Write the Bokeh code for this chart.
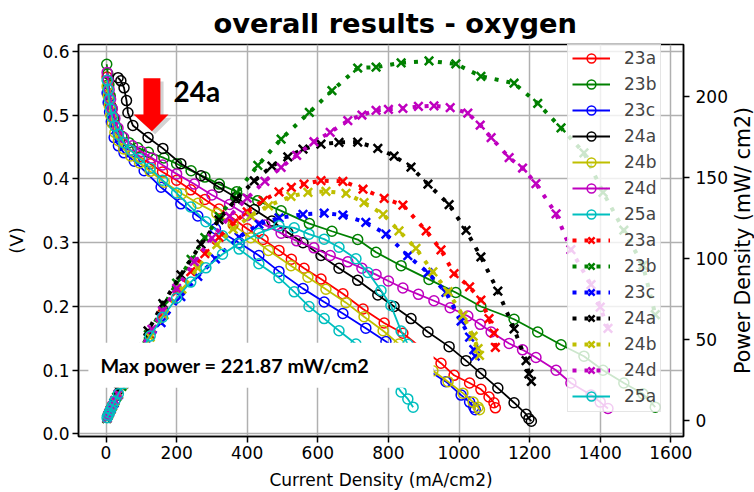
import math
from bokeh.plotting import figure
from bokeh.models import (Range1d, LinearAxis, FixedTicker, NumeralTickFormatter,
                          Legend, LegendItem, Label, BoxAnnotation, PolyAnnotation)
from bokeh.embed import file_html
from bokeh.resources import INLINE

# ---------------- data ----------------
SAMPLES = ["23a", "23b", "23c", "24a", "24b", "24d", "25a"]

I_23a = [3, 6, 9, 13, 18, 25, 35, 50, 70, 95, 125, 160, 200, 240, 280, 320, 360, 400, 445, 490,
         525, 561, 609, 671, 728, 788, 841, 907, 949, 986, 1030, 1062, 1085, 1099, 1103]
V_23a = [0.56, 0.545, 0.53, 0.515, 0.5, 0.485, 0.47, 0.457, 0.445, 0.435, 0.424, 0.411, 0.398, 0.383,
         0.368, 0.353, 0.338, 0.322, 0.305, 0.288, 0.274, 0.26, 0.243, 0.22, 0.196, 0.174, 0.158,
         0.129, 0.111, 0.092, 0.08, 0.07, 0.058, 0.049, 0.041]
P_23a = [1.7, 3.3, 4.8, 6.7, 9.0, 12.1, 16.5, 22.9, 31.2, 41.3, 53.0, 65.8, 79.6, 91.9, 103.0, 113.0,
         121.7, 128.8, 135.7, 141.1, 143.9, 145.9, 148.0, 147.6, 142.7, 137.1, 132.9, 117.0, 105.3,
         90.7, 82.4, 74.3, 62.9, 53.9, 45.2]

I_23b = [2, 5, 8, 12, 16, 22, 30, 45, 65, 90, 120, 164, 200, 241, 280, 321, 370, 430, 496, 576,
         640, 713, 765, 836, 915, 991, 1062, 1156, 1223, 1289, 1354, 1408, 1467, 1521, 1556]
V_23b = [0.58, 0.565, 0.548, 0.53, 0.512, 0.495, 0.48, 0.467, 0.457, 0.449, 0.442, 0.433, 0.424,
         0.413, 0.403, 0.392, 0.38, 0.366, 0.35, 0.33, 0.318, 0.305, 0.285, 0.264, 0.2425, 0.222,
         0.2, 0.18, 0.16, 0.14, 0.122, 0.1, 0.08, 0.063, 0.042]
P_23b = [1.2, 2.8, 4.4, 6.4, 8.2, 10.9, 14.4, 21.0, 29.7, 40.4, 53.0, 71.0, 84.8, 99.5, 112.8, 125.8,
         140.6, 157.4, 173.6, 190.1, 203.5, 217.5, 218.0, 220.7, 221.9, 220.0, 212.4, 208.1, 195.7,
         180.5, 165.2, 140.8, 117.4, 95.8, 65.4]

I_23c = [3, 6, 10, 15, 23, 35, 51, 80, 108, 156, 212, 260, 310, 377, 433, 490, 558, 618, 671, 736,
         793, 855, 912, 963, 1006, 1030, 1042, 1046]
V_23c = [0.535, 0.52, 0.505, 0.49, 0.465, 0.452, 0.441, 0.428, 0.413, 0.387, 0.361, 0.342, 0.322,
         0.3, 0.28, 0.255, 0.228, 0.207, 0.189, 0.166, 0.145, 0.119, 0.1, 0.082, 0.061, 0.05, 0.042,
         0.038]
P_23c = [1.6, 3.1, 5.1, 7.4, 10.7, 15.8, 22.5, 34.2, 44.6, 60.4, 76.5, 88.9, 99.8, 113.1, 121.2,
         125.0, 127.2, 127.9, 126.8, 122.2, 115.0, 101.7, 91.2, 79.0, 61.4, 51.5, 43.8, 39.7]

I_24a = [34, 42, 51, 58, 62, 76, 119, 161, 212, 269, 320, 368, 420, 470, 515, 558, 609, 660, 713,
         770, 816, 864, 912, 972, 1020, 1062, 1110, 1156, 1190, 1198, 1205]
V_24a = [0.559, 0.554, 0.543, 0.523, 0.504, 0.484, 0.465, 0.448, 0.424, 0.405, 0.387, 0.371, 0.352,
         0.334, 0.316, 0.30, 0.28, 0.26, 0.241, 0.218, 0.2, 0.181, 0.16, 0.137, 0.115, 0.095, 0.072,
         0.049, 0.031, 0.024, 0.02]
P_24a = [19.0, 23.3, 27.7, 30.3, 31.2, 36.8, 55.3, 72.1, 89.9, 108.9, 123.8, 136.5, 147.8, 157.0,
         162.7, 167.4, 170.5, 171.6, 171.8, 167.9, 163.2, 156.4, 145.9, 133.2, 117.3, 100.9, 79.9,
         56.6, 36.9, 28.8, 24.1]

I_24b = [3, 6, 9, 13, 18, 25, 35, 50, 70, 95, 125, 165, 215, 260, 314, 360, 410, 460, 524, 572,
         623, 680, 731, 785, 830, 878, 926, 969, 1011, 1040, 1054, 1058]
V_24b = [0.545, 0.53, 0.515, 0.5, 0.487, 0.473, 0.46, 0.447, 0.436, 0.425, 0.412, 0.395, 0.377,
         0.362, 0.346, 0.328, 0.308, 0.288, 0.264, 0.246, 0.227, 0.206, 0.184, 0.162, 0.141, 0.121,
         0.099, 0.082, 0.064, 0.05, 0.042, 0.038]
P_24b = [1.6, 3.2, 4.6, 6.5, 8.8, 11.8, 16.1, 22.4, 30.5, 40.4, 51.5, 65.2, 81.1, 94.1, 108.6, 118.1,
         126.3, 132.5, 138.3, 140.7, 141.4, 140.1, 134.5, 127.2, 117.0, 106.2, 91.7, 79.5, 64.7,
         52.0, 44.3, 40.2]

I_24d = [3, 6, 9, 13, 18, 25, 34, 50, 75, 100, 130, 160, 200, 250, 300, 350, 400, 450, 496, 540,
         589, 635, 685, 725, 765, 800, 841, 885, 929, 975, 1025, 1060, 1091, 1142, 1180, 1218, 1275,
         1317, 1374, 1400, 1422]
V_24d = [0.567, 0.555, 0.54, 0.525, 0.51, 0.495, 0.48, 0.465, 0.452, 0.443, 0.433, 0.422, 0.408,
         0.392, 0.375, 0.36, 0.343, 0.328, 0.315, 0.303, 0.292, 0.28, 0.27, 0.26, 0.25, 0.24, 0.229,
         0.219, 0.209, 0.198, 0.185, 0.172, 0.16, 0.142, 0.132, 0.12, 0.1, 0.08, 0.061, 0.05, 0.04]
P_24d = [1.7, 3.3, 4.9, 6.8, 9.2, 12.4, 16.3, 23.3, 33.9, 44.3, 56.3, 67.5, 81.6, 98.0, 112.5, 126.0,
         137.2, 147.6, 156.2, 163.6, 172.0, 177.8, 185.0, 188.5, 191.3, 192.0, 192.6, 193.8, 194.2,
         193.1, 189.6, 182.3, 174.6, 162.2, 155.8, 146.2, 127.5, 105.4, 83.8, 70.0, 56.9]

I_25a = [3, 6, 9, 13, 18, 25, 35, 50, 70, 95, 125, 160, 200, 240, 283, 330, 377, 433, 490, 533,
         575, 618, 660, 708, 742, 779, 807, 836, 855, 870]
V_25a = [0.555, 0.54, 0.525, 0.51, 0.497, 0.483, 0.47, 0.457, 0.445, 0.432, 0.417, 0.398, 0.378,
         0.356, 0.333, 0.311, 0.29, 0.267, 0.245, 0.223, 0.2, 0.181, 0.162, 0.141, 0.123, 0.103,
         0.088, 0.066, 0.055, 0.042]
P_25a = [1.7, 3.2, 4.7, 6.6, 9.0, 12.1, 16.5, 22.9, 31.2, 41.0, 52.1, 63.7, 75.6, 85.4, 94.2, 102.6,
         109.3, 115.6, 120.1, 118.9, 115.0, 111.9, 106.9, 99.8, 91.3, 80.2, 71.0, 55.2, 47.0, 36.5]

X_TICKS = [0, 200, 400, 600, 800, 1000, 1200, 1400, 1600]
V_TICKS = [0.0, 0.1, 0.2, 0.3, 0.4, 0.5, 0.6]
P_TICKS = [0, 50, 100, 150, 200]

TITLE = "overall results - oxygen"
RIGHT_LABEL = "Power Density (mW/ cm2)"
MAX_POWER_TEXT = "Max power = 221.87 mW/cm2"
ARROW_TEXT = "24a"

# ---------------- styling ----------------
CURRENT = {"23a": I_23a, "23b": I_23b, "23c": I_23c, "24a": I_24a, "24b": I_24b, "24d": I_24d, "25a": I_25a}
VOLT = {"23a": V_23a, "23b": V_23b, "23c": V_23c, "24a": V_24a, "24b": V_24b, "24d": V_24d, "25a": V_25a}
POWER = {"23a": P_23a, "23b": P_23b, "23c": P_23c, "24a": P_24a, "24b": P_24b, "24d": P_24d, "25a": P_25a}
COLORS = {"23a": "#ff0000", "23b": "#008000", "23c": "#0000ff", "24a": "#000000",
          "24b": "#bfbf00", "24d": "#bf00bf", "25a": "#00bfbf"}

FONT = "DejaVu Sans"

p = figure(width=754, height=492, output_backend="svg", toolbar_location=None,
           x_range=Range1d(-78, 1636), y_range=Range1d(-0.004, 0.611),
           min_border_left=78, min_border_right=71, min_border_top=43, min_border_bottom=56)
p.extra_y_ranges = {"power": Range1d(-9.85, 232)}
p.background_fill_color = "white"
p.border_fill_color = "white"
p.outline_line_color = "black"
p.outline_line_width = 1.5

p.title.text = TITLE
p.title.align = "left"
p.title.offset = 135
p.title.text_font = FONT
p.title.text_font_style = "bold"
p.title.text_font_size = "27.3px"
p.title.text_color = "black"
p.title.standoff = 11

for ax in (p.xaxis[0], p.yaxis[0]):
    ax.major_label_text_font = FONT
    ax.major_label_text_font_size = "17px"
    ax.major_label_text_color = "black"
    ax.axis_label_text_font = FONT
    ax.axis_label_text_font_style = "normal"
    ax.axis_label_text_color = "black"
    ax.axis_line_width = 1.5
    ax.major_tick_line_width = 1.5
    ax.major_tick_in = 0
    ax.major_tick_out = 6
    ax.minor_tick_line_color = None
    ax.major_label_standoff = 3

p.xaxis.ticker = FixedTicker(ticks=X_TICKS)
p.xaxis.axis_label = "Current Density (mA/cm2)"
p.xaxis.axis_label_text_font_size = "17px"
p.xaxis.axis_label_standoff = 8
p.yaxis.ticker = FixedTicker(ticks=V_TICKS)
p.yaxis.formatter = NumeralTickFormatter(format="0.0")
p.yaxis.axis_label = "(V)"
p.yaxis.axis_label_text_font_size = "18px"
p.yaxis.axis_label_standoff = 12

raxis = LinearAxis(y_range_name="power", ticker=FixedTicker(ticks=P_TICKS))
raxis.major_label_text_font = FONT
raxis.major_label_text_font_size = "17px"
raxis.major_label_text_color = "black"
raxis.axis_line_width = 1.5
raxis.major_tick_line_width = 1.5
raxis.major_tick_in = 0
raxis.major_tick_out = 6
raxis.minor_tick_line_color = None
raxis.major_label_standoff = 6
p.add_layout(raxis, "right")

# right axis title, read bottom-to-top as in the reference
p.add_layout(Label(x=12, y=196, x_units="screen", y_units="screen", text=RIGHT_LABEL,
                   text_font=FONT, text_font_size="20.5px", text_color="black",
                   angle=90, angle_units="deg", text_align="center",
                   text_baseline="middle"), "right")

p.xgrid.ticker = FixedTicker(ticks=X_TICKS)
p.ygrid.ticker = FixedTicker(ticks=V_TICKS)
p.grid.grid_line_color = "#b0b0b0"
p.grid.grid_line_width = 1.5

# polarisation curves
pol_items = []
for s in SAMPLES:
    c = COLORS[s]
    ln = p.line(CURRENT[s], VOLT[s], line_color=c, line_width=1.8)
    mk = p.scatter(CURRENT[s], VOLT[s], marker="circle", size=10, fill_color=None,
                   line_color=c, line_width=1.5)
    pol_items.append(LegendItem(label=s, renderers=[ln, mk]))

# power curves (right axis)
pow_items = []
for s in SAMPLES:
    c = COLORS[s]
    if s == "25a":
        ln = p.line(CURRENT[s], POWER[s], line_color=c, line_width=1.8, y_range_name="power")
        mk = p.scatter(CURRENT[s], POWER[s], marker="circle", size=10, fill_color=None,
                       line_color=c, line_width=1.5, y_range_name="power")
    else:
        ln = p.line(CURRENT[s], POWER[s], line_color=c, line_width=4, line_dash="4 8",
                    y_range_name="power")
        mk = p.scatter(CURRENT[s], POWER[s], marker="x", size=12, line_color=c,
                       line_width=2.5, y_range_name="power")
    pow_items.append(LegendItem(label=s, renderers=[ln, mk]))

# white box with max power text
p.add_layout(BoxAnnotation(left=-50, right=928, bottom=0.0726, top=0.143,
                           fill_color="white", fill_alpha=1.0, line_color=None))
p.add_layout(Label(x=-16, y=0.108, text=MAX_POWER_TEXT, text_font="Lato",
                   text_font_style="bold", text_font_size="19.8px", text_color="black",
                   text_baseline="alphabetic"))

# red arrow with shadow
AX = [106, 154, 154, 177, 130, 78, 106]
AY = [0.558, 0.558, 0.501, 0.501, 0.475, 0.501, 0.501]
p.add_layout(PolyAnnotation(xs=[x + 9 for x in AX], ys=[y - 0.005 for y in AY],
                            fill_color="#808080", fill_alpha=0.35, line_color=None))
p.add_layout(PolyAnnotation(xs=AX, ys=AY, fill_color="#ff0000", fill_alpha=1.0, line_color=None))
p.add_layout(Label(x=191, y=0.538, text=ARROW_TEXT, text_font="Lato", text_font_style="bold",
                   text_font_size="28px", text_color="black", text_baseline="alphabetic"))

legend = Legend(items=pol_items + pow_items, location=(489, 24),
                label_text_font=FONT, label_text_font_size="17px",
                glyph_width=38, glyph_height=22, label_height=22, spacing=4, padding=4,
                margin=0, label_standoff=14, border_line_color="#cccccc",
                background_fill_color="white", background_fill_alpha=0.8)
p.add_layout(legend)

open("out.html", "w").write(file_html(p, INLINE))
